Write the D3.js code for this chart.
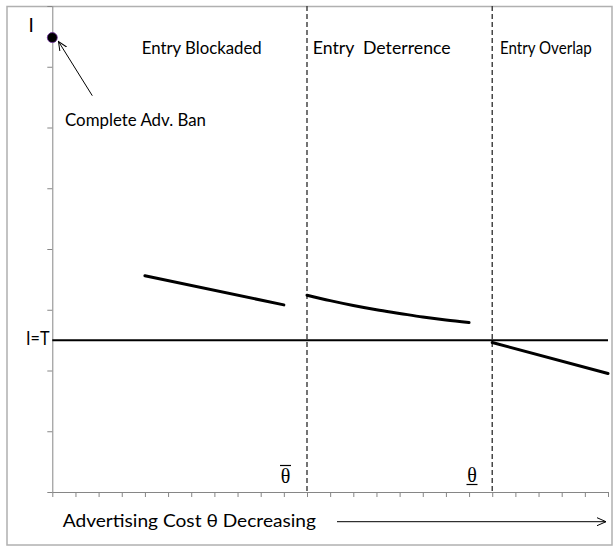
<!DOCTYPE html>
<html><head><meta charset="utf-8">
<script src="https://cdn.jsdelivr.net/npm/d3@7"></script>
<style>
html,body{margin:0;padding:0;background:#fff;}
svg text{font-family:"Lato","Open Sans",sans-serif;fill:#000;white-space:pre;}
</style></head>
<body><svg id="c" width="613" height="546"></svg>
<script>
// ---- data ----
const xTicks = d3.range(0, 25);          // 24 category intervals
const yTicks = d3.range(0, 9);           // 0..8
const regionBounds = [11, 19];           // θ̄ and θ̲ dashed boundaries
const regionLabels = ["Entry Blockaded", "Entry  Deterrence", "Entry Overlap"];
const thresholdI = 2.5;                  // I = T
const banPoint = {x: 0, y: 7.48};
const blockadedX = [4, 10];
const blockadedY = [3.56, 3.08];
const deterrenceX = [11, 12, 13, 14, 15, 16, 17, 18];
const deterrenceY = [3.24, 3.15, 3.07, 3.00, 2.94, 2.88, 2.83, 2.79];
const overlapX = [19, 24];
const overlapY = [2.46, 1.95];

// ---- layout ----
const svg = d3.select("#c");
const x = d3.scaleLinear().domain([0, 24]).range([52.3, 608]);
const y = d3.scaleLinear().domain([0, 8]).range([492, 6]);

// outer frame
svg.append("rect").attr("x", 7).attr("y", 6.5).attr("width", 605).attr("height", 538.5)
  .attr("fill", "none").attr("stroke", "#b0b0b0").attr("stroke-width", 1.5);

// axes
const yAxis = svg.append("g").attr("transform", `translate(${x(0)},0)`)
  .call(d3.axisLeft(y).tickValues(yTicks).tickSize(5).tickSizeOuter(0).tickFormat(""));
const xAxis = svg.append("g").attr("transform", `translate(0,${y(0)})`)
  .call(d3.axisBottom(x).tickValues(xTicks).tickSize(5).tickSizeOuter(0).tickFormat(""));
[yAxis, xAxis].forEach(g => {
  g.selectAll("path,line").attr("stroke", "#868686").attr("stroke-width", 1);
});

// dashed region boundaries
svg.selectAll(".bound").data(regionBounds).enter().append("line")
  .attr("x1", d => x(d)).attr("x2", d => x(d))
  .attr("y1", y(8)).attr("y2", y(0))
  .attr("stroke", "#3a3a3a").attr("stroke-width", 1.4).attr("stroke-dasharray", "5,3");

// I = T line
svg.append("line").attr("x1", x(0)).attr("x2", x(24))
  .attr("y1", y(thresholdI)).attr("y2", y(thresholdI))
  .attr("stroke", "#000").attr("stroke-width", 2);

// curves
const line = d3.line().x(d => x(d[0])).y(d => y(d[1])).curve(d3.curveMonotoneX);
[[blockadedX, blockadedY], [deterrenceX, deterrenceY], [overlapX, overlapY]].forEach(([xs, ys]) => {
  svg.append("path").attr("d", line(xs.map((v, i) => [v, ys[i]])))
    .attr("fill", "none").attr("stroke", "#000").attr("stroke-width", 3).attr("stroke-linecap", "round");
});

// ban point
svg.append("circle").attr("cx", x(banPoint.x)).attr("cy", y(banPoint.y)).attr("r", 5)
  .attr("fill", "#000").attr("stroke", "#7030a0").attr("stroke-width", 0.8);

// annotation arrows
const defs = svg.append("defs");
defs.append("marker").attr("id", "open").attr("viewBox", "0 0 10 10").attr("refX", 9).attr("refY", 5)
  .attr("markerWidth", 10).attr("markerHeight", 10).attr("orient", "auto").attr("markerUnits", "userSpaceOnUse")
  .append("path").attr("d", "M0,1 L9,5 L0,9").attr("fill", "none").attr("stroke", "#000").attr("stroke-width", 1);
svg.append("line").attr("x1", 92.3).attr("y1", 95.7).attr("x2", 58.5).attr("y2", 41.5)
  .attr("stroke", "#000").attr("stroke-width", 1).attr("marker-end", "url(#open)");
svg.append("line").attr("x1", 337).attr("y1", 521.7).attr("x2", 606).attr("y2", 521.7)
  .attr("stroke", "#000").attr("stroke-width", 1).attr("marker-end", "url(#open)");

// texts
const fs = 17.5;
function txt(s, px, py, w, anchor, size) {
  const t = svg.append("text").attr("x", px).attr("y", py).attr("font-size", size || fs)
    .attr("text-anchor", anchor || "start").text(s);
  if (w) t.attr("textLength", w).attr("lengthAdjust", "spacingAndGlyphs");
  return t;
}
txt(regionLabels[0], 141.7, 54.3, 120);
txt(regionLabels[1], 312.7, 54.3, 138);
txt(regionLabels[2], 500, 54.3, 91.7);
txt("Complete Adv. Ban", 65, 126, 141);
txt("Advertising Cost θ Decreasing", 62.7, 526.7, 253.3);
txt("I", 28.5, 31.7, null, "start", 19);
txt("I=T", 49.5, 345, 23.5, "end", 19);

// theta labels
const serif = '"Liberation Serif","DejaVu Serif",serif';
svg.append("text").attr("x", 285.5).attr("y", 483).attr("font-size", 20).attr("text-anchor", "middle")
  .style("font-family", serif).text("θ");
svg.append("line").attr("x1", 280).attr("x2", 291).attr("y1", 465.5).attr("y2", 465.5)
  .attr("stroke", "#000").attr("stroke-width", 1.2);
svg.append("text").attr("x", 472).attr("y", 482).attr("font-size", 20).attr("text-anchor", "middle")
  .style("font-family", serif).text("θ");
svg.append("line").attr("x1", 466.5).attr("x2", 477.5).attr("y1", 484.5).attr("y2", 484.5)
  .attr("stroke", "#000").attr("stroke-width", 1.2);
</script></body></html>
